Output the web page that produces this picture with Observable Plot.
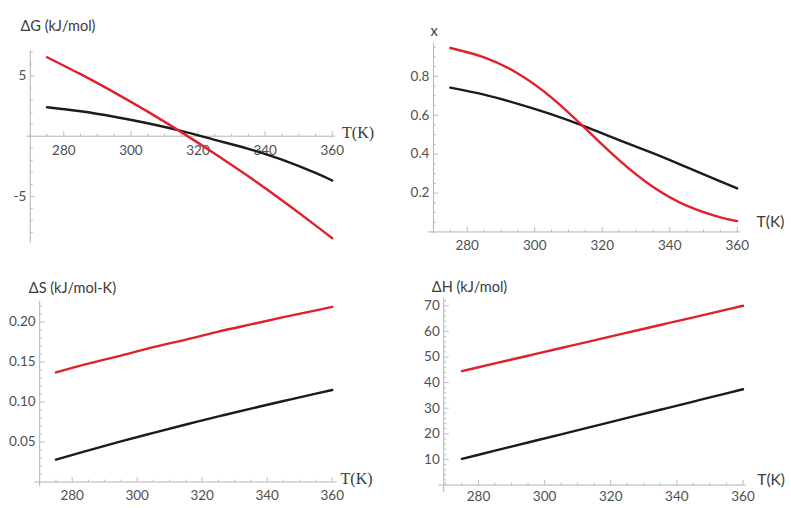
<!DOCTYPE html>
<html><head><meta charset="utf-8">
<script src="https://cdn.jsdelivr.net/npm/d3@7"></script>
<script src="https://cdn.jsdelivr.net/npm/@observablehq/plot@0.6"></script>
<style>
body{margin:0;background:#fff;}
#wrap{position:relative;width:791px;height:508px;overflow:hidden;background:#fff;}
#wrap svg{position:absolute;}
</style></head><body><div id="wrap"></div>
<script>
// Temperatures (K) at which the curves were read
const T = [275, 285, 295, 305, 315, 325, 335, 345, 355, 360];
// ΔG (kJ/mol)
const dGRed   = [6.56, 5.15, 3.64, 2.04, 0.34, -1.45, -3.33, -5.32, -7.40, -8.47];
const dGBlack = [2.41, 2.07, 1.62, 1.08, 0.44, -0.30, -1.05, -1.95, -3.05, -3.68];
// x (fraction)
const xRed    = [0.946, 0.898, 0.815, 0.691, 0.532, 0.369, 0.232, 0.135, 0.075, 0.056];
const xBlack  = [0.742, 0.706, 0.659, 0.605, 0.542, 0.472, 0.405, 0.333, 0.260, 0.224];
// ΔS (kJ/mol-K)
const dSRed   = [0.137, 0.148, 0.158, 0.1685, 0.178, 0.188, 0.197, 0.206, 0.2146, 0.219];
const dSBlack = [0.028, 0.0395, 0.0507, 0.0614, 0.0719, 0.082, 0.0917, 0.1012, 0.1105, 0.115];
// ΔH (kJ/mol)
const dHRed   = [44.5, 47.5, 50.5, 53.5, 56.5, 59.5, 62.5, 65.5, 68.5, 70.0];
const dHBlack = [10.2, 13.4, 16.6, 19.8, 23.0, 26.2, 29.4, 32.6, 35.8, 37.4];

// Tick values and labels
const xTicks = [280, 300, 320, 340, 360];
const xTickLabels = ["280", "300", "320", "340", "360"];
const gTicks = [-5, 5];           const gTickLabels = ["-5", "5"];
const fTicks = [0.2, 0.4, 0.6, 0.8]; const fTickLabels = ["0.2", "0.4", "0.6", "0.8"];
const sTicks = [0.05, 0.10, 0.15, 0.20]; const sTickLabels = ["0.05", "0.10", "0.15", "0.20"];
const hTicks = [10, 20, 30, 40, 50, 60, 70]; const hTickLabels = ["10", "20", "30", "40", "50", "60", "70"];
const titles = ["ΔG (kJ/mol)", "x", "ΔS (kJ/mol-K)", "ΔH (kJ/mol)"];
const xTitle = "T(K)";

const RED = "#e0212b", BLACK = "#1b1b1b", AXIS = "#b4b4b4", TICK = "#bdbdbd", LABEL = "#505050";
const SANS = "Lato, 'Open Sans', sans-serif";
const up = L => ({draw(ctx) { ctx.moveTo(0, 0); ctx.lineTo(0, -L); }});
const rightT = L => ({draw(ctx) { ctx.moveTo(0, 0); ctx.lineTo(L, 0); }});
const xMinor = d3.range(270, 361, 5).filter(v => v % 20 !== 0);

function panel(o) {
  const marks = [
    Plot.ruleY([0], {stroke: AXIS, strokeWidth: 1}),
    Plot.ruleX([o.yAxisT], {stroke: AXIS, strokeWidth: 1}),
    Plot.dot(xMinor, {x: d => d, y: () => 0, symbol: up(2.5), r: 3, stroke: TICK, fill: "none", strokeWidth: 1}),
    Plot.dot(xTicks, {x: d => d, y: () => 0, symbol: up(5), r: 5, stroke: TICK, fill: "none", strokeWidth: 1}),
    Plot.dot(o.yMinor, {x: () => o.yAxisT, y: d => d, symbol: rightT(2.5), r: 3, stroke: TICK, fill: "none", strokeWidth: 1}),
    Plot.dot(o.yTicks, {x: () => o.yAxisT, y: d => d, symbol: rightT(5), r: 5, stroke: TICK, fill: "none", strokeWidth: 1}),
    Plot.text(xTicks, {x: d => d, y: () => 0, text: (d, i) => xTickLabels[i], dy: o.xLabDy, fill: LABEL, fontSize: 13.5, fontFamily: SANS}),
    Plot.text(o.yTicks, {x: () => o.yAxisT, y: d => d, text: (d, i) => o.yLabels[i], dx: -4, textAnchor: "end", fill: LABEL, fontSize: 13.5, fontFamily: SANS}),
    Plot.line(T, {x: d => d, y: (d, i) => o.black[i], curve: "natural", stroke: BLACK, strokeWidth: 2.4}),
    Plot.line(T, {x: d => d, y: (d, i) => o.red[i], curve: "natural", stroke: RED, strokeWidth: 2.4}),
    Plot.text([o.title], {frameAnchor: "top-left", dx: o.tdx, dy: o.tdy, textAnchor: "start", fill: "#3a3a3a", fontSize: 14.5, fontFamily: SANS}),
    Plot.text([xTitle], {x: () => o.xmax, y: () => 0, dx: o.kdx, dy: o.kdy, textAnchor: "start", fill: "#3a3a3a", fontSize: o.kSize, fontFamily: o.kFont})
  ];
  const svg = Plot.plot({
    width: o.w, height: o.h,
    marginLeft: o.ml, marginRight: o.mr, marginTop: o.mt, marginBottom: o.mb,
    x: {domain: [o.xmin, o.xmax], axis: null},
    y: {domain: [o.ymin, o.ymax], axis: null},
    style: {background: "transparent", overflow: "visible", fontFamily: SANS},
    marks
  });
  svg.style.left = o.left + "px";
  svg.style.top = o.top + "px";
  document.getElementById("wrap").appendChild(svg);
}

panel({left: 0, top: 0, w: 395, h: 254, ml: 26.4, mr: 59.9, mt: 50.2, mb: 11.1,
  xmin: 269, xmax: 361, yAxisT: 270, ymin: -8.9, ymax: 7.1,
  yTicks: gTicks, yLabels: gTickLabels, yMinor: d3.range(-8, 8, 1).filter(v => v % 5 !== 0),
  red: dGRed, black: dGBlack, title: titles[0], tdx: -6.4, tdy: -30,
  xLabDy: 14.5, kdx: 6.5, kdy: -3, kSize: 16, kFont: "'Liberation Serif', serif"});

panel({left: 395, top: 0, w: 396, h: 254, ml: 32.9, mr: 50.9, mt: 42.8, mb: 20.6,
  xmin: 268.5, xmax: 361, yAxisT: 270, ymin: -0.01, ymax: 0.97,
  yTicks: fTicks, yLabels: fTickLabels, yMinor: d3.range(0.05, 0.96, 0.05).filter(v => Math.abs(v * 5 - Math.round(v * 5)) > 1e-6),
  red: xRed, black: xBlack, title: titles[1], tdx: 2, tdy: -18,
  xLabDy: 14, kdx: 16, kdy: -10, kSize: 15.5, kFont: SANS});

panel({left: 0, top: 254, w: 395, h: 254, ml: 34.3, mr: 58.4, mt: 46.7, mb: 21.7,
  xmin: 268.5, xmax: 361.5, yAxisT: 270, ymin: -0.006, ymax: 0.226,
  yTicks: sTicks, yLabels: sTickLabels, yMinor: d3.range(0.01, 0.225, 0.01).filter(v => Math.abs(v * 20 - Math.round(v * 20)) > 1e-6),
  red: dSRed, black: dSBlack, title: titles[2], tdx: -6, tdy: -18,
  xLabDy: 14, kdx: 3.5, kdy: -3, kSize: 16, kFont: "'Liberation Serif', serif"});

panel({left: 395, top: 254, w: 396, h: 254, ml: 43.3, mr: 45.2, mt: 43.6, mb: 15.8,
  xmin: 268, xmax: 361, yAxisT: 269.5, ymin: -3, ymax: 73,
  yTicks: hTicks, yLabels: hTickLabels, yMinor: d3.range(2, 73, 2).filter(v => v % 10 !== 0),
  red: dHRed, black: dHBlack, title: titles[3], tdx: -7, tdy: -16,
  xLabDy: 12, kdx: 11, kdy: -5, kSize: 15.5, kFont: SANS});
</script>
</body></html>
